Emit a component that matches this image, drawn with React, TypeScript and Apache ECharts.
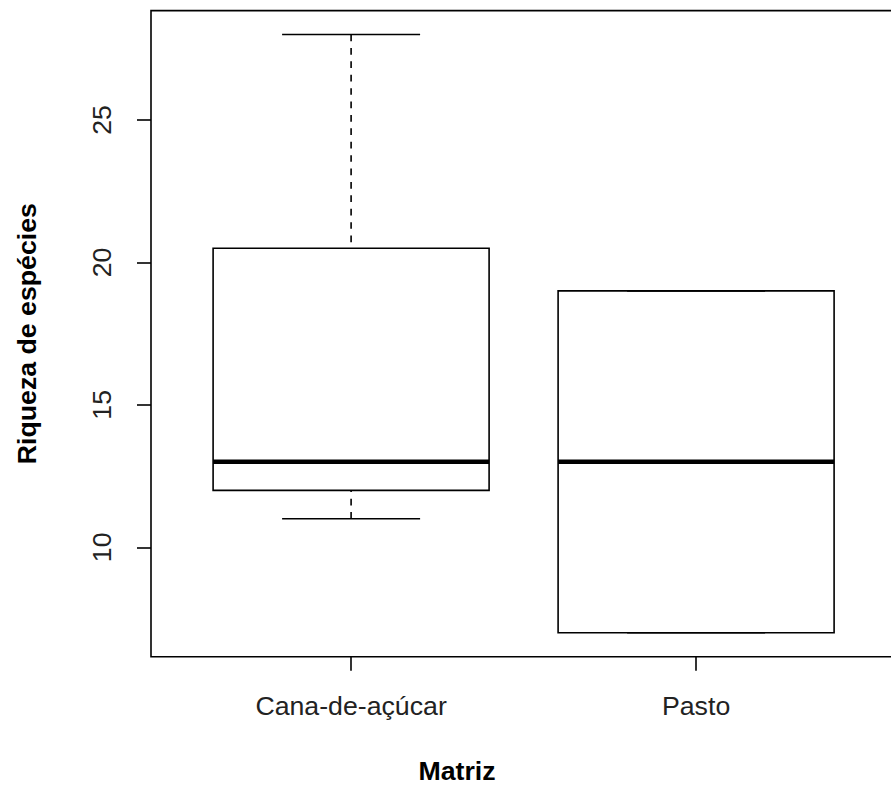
import React, { useEffect, useRef } from "react";
import * as echarts from "echarts";

// Species richness per matrix type (box-plot summary statistics)
const categories = ["Cana-de-açúcar", "Pasto"];
const lowerWhisker = [11, 7];
const firstQuartile = [12, 7];
const medians = [13, 13];
const thirdQuartile = [20.5, 19];
const upperWhisker = [28, 19];
const yTicks = [10, 15, 20, 25];
const xTicks = [1, 2];

const FONT = "'Liberation Sans', Arial, Helvetica, sans-serif";
const FONT_SIZE = 26.7;
const LINE_W = 1.6;

export default function App() {
  const ref = useRef<HTMLDivElement>(null);

  useEffect(() => {
    if (!ref.current) return;
    const chart = echarts.init(ref.current, undefined, { renderer: "svg" });

    const data = categories.map((_, i) => [
      i + 1,
      lowerWhisker[i],
      firstQuartile[i],
      medians[i],
      thirdQuartile[i],
      upperWhisker[i],
    ]);

    const renderItem = (params: any, api: any) => {
      const x = api.value(0);
      const lo = api.value(1);
      const q1 = api.value(2);
      const med = api.value(3);
      const q3 = api.value(4);
      const hi = api.value(5);
      const boxHalf = api.size([0.8, 0])[0] / 2;
      const capHalf = api.size([0.4, 0])[0] / 2;
      const [cx, yLo] = api.coord([x, lo]);
      const yQ1 = api.coord([x, q1])[1];
      const yMed = api.coord([x, med])[1];
      const yQ3 = api.coord([x, q3])[1];
      const yHi = api.coord([x, hi])[1];
      const solid = { stroke: "#000", lineWidth: LINE_W, fill: "none" };
      const dashed = { ...solid, lineDash: [6.7, 6.7] };
      return {
        type: "group",
        children: [
          { type: "line", shape: { x1: cx, y1: yLo, x2: cx, y2: yQ1 }, style: dashed },
          { type: "line", shape: { x1: cx, y1: yHi, x2: cx, y2: yQ3 }, style: dashed },
          { type: "line", shape: { x1: cx - capHalf, y1: yLo, x2: cx + capHalf, y2: yLo }, style: solid },
          { type: "line", shape: { x1: cx - capHalf, y1: yHi, x2: cx + capHalf, y2: yHi }, style: solid },
          {
            type: "rect",
            shape: { x: cx - boxHalf, y: yQ3, width: boxHalf * 2, height: yQ1 - yQ3 },
            style: solid,
          },
          {
            type: "line",
            shape: { x1: cx - boxHalf, y1: yMed, x2: cx + boxHalf, y2: yMed },
            style: { stroke: "#000", lineWidth: 4.5, lineCap: "butt" },
          },
        ],
      };
    };

    chart.setOption({
      animation: false,
      backgroundColor: "#fff",
      grid: {
        left: 151,
        right: -5.2,
        top: 10.6,
        bottom: 130.3,
        outerBoundsMode: "none",
        containLabel: false,
        show: true,
        borderColor: "#000",
        borderWidth: LINE_W,
        backgroundColor: "transparent",
      },
      xAxis: {
        type: "value",
        min: 0.42,
        max: 2.58,
        axisLine: { show: false },
        splitLine: { show: false },
        axisTick: {
          show: true,
          length: 14,
          customValues: xTicks,
          lineStyle: { color: "#000", width: LINE_W },
        },
        axisLabel: {
          customValues: xTicks,
          formatter: (v: number) => categories[Math.round(v) - 1] ?? "",
          margin: 35.5,
          fontFamily: FONT,
          fontSize: FONT_SIZE,
          lineHeight: 27,
          color: "#222",
        },
      },
      yAxis: {
        type: "value",
        min: 6.16,
        max: 28.84,
        name: "Riqueza de espécies",
        nameLocation: "middle",
        nameGap: 110.5,
        nameTextStyle: {
          fontFamily: FONT,
          fontSize: FONT_SIZE,
          fontWeight: "bold",
          lineHeight: 27,
          color: "#000",
        },
        axisLine: { show: false },
        splitLine: { show: false },
        axisTick: {
          show: true,
          length: 14,
          customValues: yTicks,
          lineStyle: { color: "#000", width: LINE_W },
        },
        axisLabel: {
          customValues: yTicks,
          rotate: 90,
          margin: 35.5,
          fontFamily: FONT,
          fontSize: FONT_SIZE,
          lineHeight: 27,
          color: "#222",
        },
      },
      graphic: [
        {
          type: "text",
          x: 457,
          y: 771,
          style: {
            text: "Matriz",
            fontFamily: FONT,
            fontSize: FONT_SIZE,
            fontWeight: "bold",
            fill: "#000",
            textAlign: "center",
            textVerticalAlign: "middle",
          },
        },
      ],
      series: [
        {
          type: "custom",
          renderItem,
          data,
          encode: { x: 0, y: [1, 2, 3, 4, 5] },
          clip: false,
        },
      ],
    });

    return () => chart.dispose();
  }, []);

  return (
    <div
      ref={ref}
      style={{ position: "absolute", left: 0, top: 0, width: 891, height: 787 }}
    />
  );
}
